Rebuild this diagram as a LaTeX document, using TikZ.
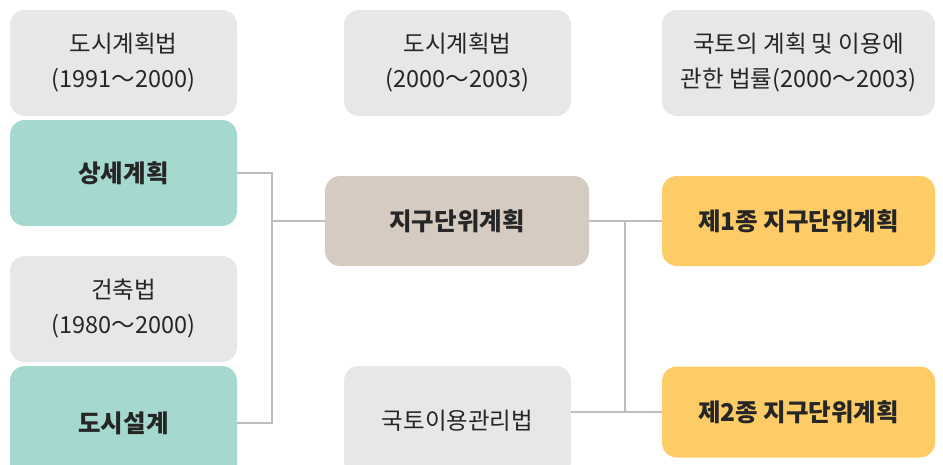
\documentclass[tikz,border=0pt]{standalone}
\usepackage{fontspec}
\setmainfont{Noto Sans CJK KR}
\newfontfamily\kr{Noto Sans CJK KR}
\definecolor{gfill}{HTML}{E6E7E9}
\definecolor{tfill}{HTML}{A5D9D0}
\definecolor{bfill}{HTML}{D6CBC1}
\definecolor{yfill}{HTML}{FECC66}
\definecolor{linec}{HTML}{BDBEC0}
\definecolor{txt}{HTML}{262626}
\begin{document}
\begin{tikzpicture}[x=1pt,y=-1pt,
  base/.style={rounded corners=15pt, inner sep=0pt, align=center, text=txt},
  graybox/.style={base, fill=gfill, font=\kr\fontsize{23.5}{35}\selectfont},
  colbox/.style={base, font=\kr\bfseries\fontsize{24.5}{30}\selectfont},
  conn/.style={draw=linec, line width=2.8pt}]
\useasboundingbox (0,0) rectangle (943,464);
\node[graybox, minimum width=227pt, minimum height=106pt] (law1) at (123.5,63) {도시계획법\\(1991～2000)};
\node[graybox, minimum width=227pt, minimum height=106pt] (law2) at (457.5,63) {도시계획법\\(2000～2003)};
\node[graybox, minimum width=273pt, minimum height=106pt] (law3) at (798.5,63) {국토의 계획 및 이용에\\관한 법률(2000～2003)};
\node[colbox, fill=tfill, minimum width=227pt, minimum height=106pt] (sangse) at (123.5,173) {상세계획};
\node[graybox, minimum width=227pt, minimum height=106pt] (arch) at (123.5,309) {건축법\\(1980～2000)};
\node[colbox, fill=tfill, minimum width=227pt, minimum height=114pt] (dosi) at (123.5,423) {도시설계};
\node[colbox, fill=bfill, minimum width=264pt, minimum height=90pt] (jigu) at (457,221) {지구단위계획};
\node[colbox, fill=yfill, minimum width=273pt, minimum height=90pt] (type1) at (798.5,221) {제1종 지구단위계획};
\node[colbox, fill=yfill, minimum width=273pt, minimum height=91pt] (type2) at (798.5,412) {제2종 지구단위계획};
\node[graybox, minimum width=227pt, minimum height=110pt] (gukto) at (457.5,421) {국토이용관리법};
\coordinate (b1) at (272,0);
\coordinate (b2) at (625,0);
\draw[conn] (sangse.east) -| (b1 |- dosi.east) -- (dosi.east);
\draw[conn] (b1 |- jigu.west) -- (jigu.west);
\draw[conn] (jigu.east) -- (type1.west);
\draw[conn] (gukto.east |- type2.west) -- (type2.west);
\draw[conn] (b2 |- jigu.east) -- (b2 |- type2.west);
\end{tikzpicture}
\end{document}
